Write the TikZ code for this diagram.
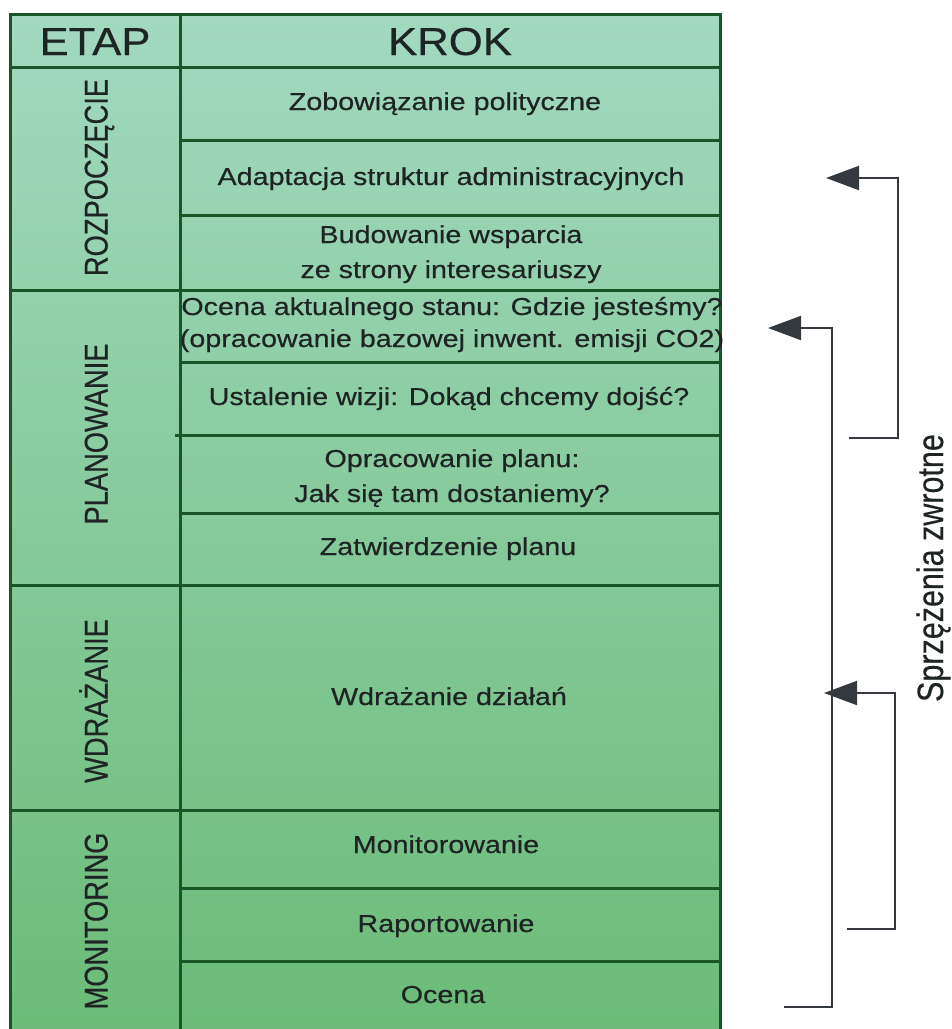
\documentclass[tikz,border=0pt]{standalone}
\usepackage{fontspec}
\usepackage{graphicx}
\setmainfont{Liberation Sans}[FakeBold=0.4,AutoFakeBold=0.4]
\usetikzlibrary{arrows.meta}
\definecolor{tabgreen}{HTML}{1A5528}
\definecolor{topfill}{HTML}{A2D9C0}
\definecolor{midfill}{HTML}{7DC792}
\definecolor{botfill}{HTML}{6BBB77}
\definecolor{txtcol}{HTML}{1E2424}
\definecolor{fbgray}{HTML}{34383F}
\newcommand\hstretch[1]{\scalebox{1.17}[1]{#1}}
\newcommand\headstretch[1]{\scalebox{1.12}[1]{#1}}
\newcommand\vstretch[1]{\scalebox{1}[1.2]{#1}}
\tikzset{
  gridline/.style={draw=tabgreen, line width=3pt},
  steptext/.style={font=\fontsize{24.5}{34}\selectfont, text=txtcol, anchor=base, inner sep=0pt},
  stagetext/.style={font=\fontsize{27.3}{30}\selectfont, text=txtcol, rotate=90, anchor=base, inner sep=0pt},
  headtext/.style={font=\fontsize{39}{42}\selectfont, text=txtcol, anchor=base, inner sep=0pt},
  fbline/.style={draw=fbgray, line width=2pt, -{Triangle[length=33pt,width=24pt,fill=fbgray]}},
}
\begin{document}
\begin{tikzpicture}[x=1pt,y=-1pt]
\useasboundingbox (0,0) rectangle (952,1029);
\begin{scope}
\clip (0,0) rectangle (952,1029);
% table background
\shade[top color=topfill, middle color=midfill, bottom color=botfill] (10,14) rectangle (720,1040);
% outer frame (open at the bottom, cut by the page)
\draw[gridline] (10,1040) -- (10,14) -- (720,14) -- (720,1040);
% column divider
\draw[gridline] (180,14) -- (180,1040);
% full-width row lines
\foreach \yy in {67,290,585,810} \draw[gridline] (10,\yy) -- (720,\yy);
% step-only row lines
\foreach \yy in {140,215,362,513,888,961} \draw[gridline] (180,\yy) -- (720,\yy);
\draw[gridline] (175,435) -- (720,435);
\end{scope}
% header
\node[headtext] (etap) at (95,55) {\headstretch{ETAP}};
\node[headtext] (krok) at (450,55) {\headstretch{KROK}};
% stages
\node[stagetext] (rozp) at (107.5,177.5) {\vstretch{ROZPOCZĘCIE}};
\node[stagetext] (plan) at (107.5,434) {\vstretch{PLANOWANIE}};
\node[stagetext] (wdr) at (107.5,701) {\vstretch{WDRAŻANIE}};
\node[stagetext] (mon) at (107.5,921) {\vstretch{MONITORING}};
% steps
\node[steptext] (s1) at (445,110) {\hstretch{Zobowiązanie polityczne}};
\node[steptext] (s2) at (451,185) {\hstretch{Adaptacja struktur administracyjnych}};
\node[steptext] (s3) at (451,278) {\hstretch{\fontsize{24.5}{35}\selectfont\begin{tabular}[b]{@{}c@{}}Budowanie wsparcia\\ze strony interesariuszy\end{tabular}}};
\node[steptext] (s4) at (452,347) {\hstretch{\fontsize{24.5}{32}\selectfont\begin{tabular}[b]{@{}c@{}}Ocena aktualnego stanu: Gdzie jesteśmy?\\(opracowanie bazowej inwent. emisji CO2)\end{tabular}}};
\node[steptext] (s5) at (449,405) {\hstretch{Ustalenie wizji: Dokąd chcemy dojść?}};
\node[steptext] (s6) at (452,502) {\hstretch{\fontsize{24.5}{35}\selectfont\begin{tabular}[b]{@{}c@{}}Opracowanie planu:\\Jak się tam dostaniemy?\end{tabular}}};
\node[steptext] (s7) at (448,555) {\hstretch{Zatwierdzenie planu}};
\node[steptext] (s8) at (449,705) {\hstretch{Wdrażanie działań}};
\node[steptext] (s9) at (446,853) {\hstretch{Monitorowanie}};
\node[steptext] (s10) at (446,932) {\hstretch{Raportowanie}};
\node[steptext] (s11) at (443,1003) {\hstretch{Ocena}};
% feedback loops
\coordinate (fbAstart) at (849,438);
\coordinate (fbAend) at (826,178);
\coordinate (fbBstart) at (784,1007);
\coordinate (fbBend) at (768,328);
\coordinate (fbCstart) at (847,929);
\coordinate (fbCend) at (824,693);
\draw[fbline] (fbAstart) -- ++(49,0) |- (fbAend);
\draw[fbline] (fbBstart) -- ++(48,0) |- (fbBend);
\draw[fbline] (fbCstart) -- ++(48,0) |- (fbCend);
\node[font=\fontsize{30.5}{34}\selectfont, text=txtcol, rotate=90, anchor=base, inner sep=0pt] (fblabel) at (943,568) {\vstretch{Sprzężenia zwrotne}};
\end{tikzpicture}
\end{document}
